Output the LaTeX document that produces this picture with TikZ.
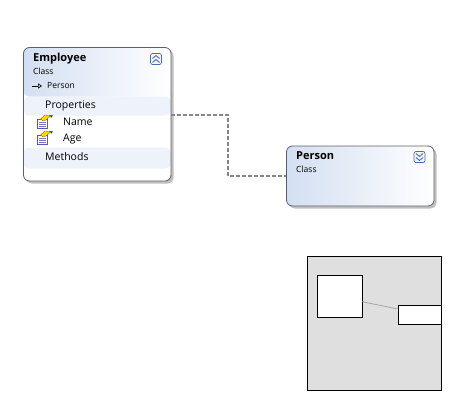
\documentclass[tikz,border=0pt]{standalone}
\usepackage{fontspec}
\setmainfont{Open Sans}
\usetikzlibrary{arrows.meta,positioning,calc,shadows}
\definecolor{boxline}{HTML}{5A5F68}
\definecolor{headblue}{HTML}{D3DFF1}
\definecolor{barblue}{HTML}{EEF2FA}
\definecolor{dashline}{HTML}{858585}
\definecolor{mapgray}{HTML}{DFDFDF}
\definecolor{btnblue}{HTML}{4A6FA8}
\definecolor{btnfill}{HTML}{F1F5FC}
\tikzset{
  classbox/.style={draw=boxline,fill=white,rounded corners=6pt,line width=0.8pt,
    drop shadow={shadow xshift=2.5pt,shadow yshift=-2.5pt,fill=black,opacity=0.25}},
  titletext/.style={font=\fontsize{11}{12}\selectfont\bfseries,inner sep=0pt,anchor=west,text height=8pt,text depth=2pt},
  smalltext/.style={font=\fontsize{8.5}{10}\selectfont,inner sep=0pt,anchor=west,text height=6.5pt,text depth=2pt},
  itemtext/.style={font=\fontsize{10.5}{12}\selectfont,inner sep=0pt,anchor=west,text height=8pt,text depth=2pt},
  btnbox/.style={draw=btnblue,fill=btnfill,rounded corners=2pt,line width=0.7pt,minimum size=11pt,inner sep=0pt},
  mapbox/.style={draw=black,line width=0.8pt,fill=white,inner sep=0pt},
}
% little property icon, #1 is its centre
\newcommand{\propicon}[1]{%
  \begin{scope}[shift={(#1)}]
    \fill[white,draw=gray!70!blue,line width=0.6pt] (-7,-2.5) rectangle (3,6);
    \draw[blue!35!gray!80,line width=0.8pt] (-5.5,0) -- (1.5,0) (-5.5,2) -- (1.5,2) (-5.5,4) -- (1.5,4);
    \fill[yellow!75!orange,draw=orange!60!black,line width=0.3pt] (-3.5,-3) -- (1,-7) -- (7,-6.5) -- (2,-2) -- (-1,-1) -- cycle;
    \fill[green!45!black] (6,-7) -- (9,-6.5) -- (7,-4) -- cycle;
  \end{scope}}
\begin{document}
\begin{tikzpicture}[x=1pt,y=-1pt]
  \useasboundingbox (0,0) rectangle (462,412);
  % class boxes
  \node[classbox,minimum width=147.5pt,minimum height=133.5pt,
        path picture={
          \shade[left color=headblue,right color=white] (path picture bounding box.north west)
            rectangle ([yshift=-49pt]path picture bounding box.north east);
          \fill[barblue] ([yshift=-49pt]path picture bounding box.north west)
            rectangle ([yshift=-68pt]path picture bounding box.north east);
          \fill[barblue] ([yshift=-100pt]path picture bounding box.north west)
            rectangle ([yshift=-121pt]path picture bounding box.north east);
        }] (employee) at (97.25,114.25) {};
  \node[classbox,minimum width=147.5pt,minimum height=60pt,
        path picture={
          \shade[shading angle=75,left color=headblue,right color=white] (path picture bounding box.north west)
            rectangle (path picture bounding box.south east);
        }] (person) at (360.25,176) {};
  \draw[dashline,line width=2pt,dash pattern=on 4pt off 2pt]
        ([yshift=-0.25pt]employee.east) -- ++(57,0) |- (person.west);
  % text of employee
  \node[titletext] (emptitle) at (33,58) {Employee};
  \node[smalltext] (empclass) at (33,72) {Class};
  \node[smalltext] (empbase) at (47,86) {Person};
  \coordinate (arrowstart) at (32,86);
  \draw[line width=0.6pt,-{Triangle[open,length=4pt,width=5pt]}] (arrowstart) -- (empbase.west -| 42,86);
  \node[itemtext] (props) at (45,105) {Properties};
  \node[itemtext] (nameitem) at (63,122) {Name};
  \node[itemtext] (ageitem) at (63,138) {Age};
  \node[itemtext] (methods) at (45,157) {Methods};
  \propicon{44,122}
  \propicon{44,138}
  % text of person
  \node[titletext] (pertitle) at (296,156) {Person};
  \node[smalltext] (perclass) at (296,170) {Class};
  % expander buttons
  \node[btnbox] (empbtn) at (156,59) {};
  \draw[btnblue,line width=0.9pt] (152.5,58.5) -- (156,55.5) -- (159.5,58.5) (152.5,62.5) -- (156,59.5) -- (159.5,62.5);
  \node[btnbox] (perbtn) at (419.5,157) {};
  \draw[btnblue,line width=0.9pt] (416,153.5) -- (419.5,156.5) -- (423,153.5) (416,157.5) -- (419.5,160.5) -- (423,157.5);
  % overview
  \node[draw=black,line width=0.8pt,fill=mapgray,minimum size=134pt,inner sep=0pt] (overview) at (374,323) {};
  \node[mapbox,minimum width=44.5pt,minimum height=42pt] (mapemp) at (339.75,296) {};
  \node[mapbox,minimum width=43pt,minimum height=19pt] (mapper) at (419.5,314.5) {};
  \draw[gray!70,line width=0.8pt] ([yshift=-5.7pt]mapemp.east) -- ([yshift=5.5pt]mapper.west);
\end{tikzpicture}
\end{document}
